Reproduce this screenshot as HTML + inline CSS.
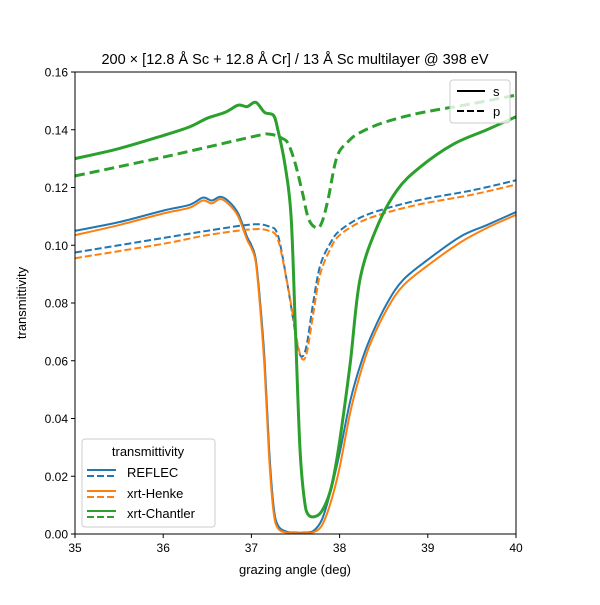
<!DOCTYPE html>
<html><head><meta charset="utf-8"><style>
body{margin:0;background:#fff}
svg text{font-family:"Liberation Sans","DejaVu Sans",sans-serif;fill:#000}
</style></head><body>
<svg id="chart" width="600" height="600" viewBox="0 0 600 600" xmlns="http://www.w3.org/2000/svg">
<rect width="600" height="600" fill="#fff"/>
<g id="plot"></g>
<g id="axes"></g>
<text x="295" y="64" font-size="14.5" text-anchor="middle">200 × [12.8 Å Sc + 12.8 Å Cr] / 13 Å Sc multilayer @ 398 eV</text>
<text x="295" y="574" font-size="13" text-anchor="middle">grazing angle (deg)</text>
<text x="26" y="303" font-size="13" text-anchor="middle" transform="rotate(-90 26 303)">transmittivity</text>
<g>
<rect x="450" y="80" width="60" height="43" rx="3" fill="#fff" fill-opacity="0.8" stroke="#ccc"/>
<line x1="457" y1="91" x2="485" y2="91" stroke="#000" stroke-width="2"/>
<text x="493" y="96" font-size="13">s</text>
<line x1="457" y1="111" x2="485" y2="111" stroke="#000" stroke-width="2" stroke-dasharray="7,3"/>
<text x="493" y="116" font-size="13">p</text>
</g>
<g>
<rect x="82" y="439" width="133" height="88" rx="3" fill="#fff" fill-opacity="0.8" stroke="#ccc"/>
<text x="148" y="456" font-size="13" text-anchor="middle">transmittivity</text>
<g>
<line x1="87" y1="470" x2="116" y2="470" stroke="#1f77b4" stroke-width="2"/>
<line x1="87" y1="476" x2="116" y2="476" stroke="#1f77b4" stroke-width="2" stroke-dasharray="7,3"/>
<text x="127" y="477" font-size="13">REFLEC</text></g>
<g>
<line x1="87" y1="491" x2="116" y2="491" stroke="#ff7f0e" stroke-width="2"/>
<line x1="87" y1="497" x2="116" y2="497" stroke="#ff7f0e" stroke-width="2" stroke-dasharray="7,3"/>
<text x="127" y="498" font-size="13">xrt-Henke</text></g>
<g>
<line x1="87" y1="511" x2="116" y2="511" stroke="#2ca02c" stroke-width="2"/>
<line x1="87" y1="517" x2="116" y2="517" stroke="#2ca02c" stroke-width="2" stroke-dasharray="7,3"/>
<text x="127" y="518" font-size="13">xrt-Chantler</text></g>
</g>
</svg>
<script>
const xTicks=[35,36,37,38,39,40];
const yTicks=[0,0.02,0.04,0.06,0.08,0.10,0.12,0.14,0.16];
const yTickLabels=["0.00","0.02","0.04","0.06","0.08","0.10","0.12","0.14","0.16"];
const reflecSX=[35,35.5,36,36.3,36.45,36.55,36.65,36.75,36.85,36.95,37.0,37.05,37.1,37.15,37.2,37.25,37.3,37.4,37.5,37.6,37.7,37.8,37.9,38.0,38.12,38.23,38.35,38.54,38.72,39.0,39.37,39.67,40];
const reflecSY=[0.105,0.108,0.112,0.114,0.1165,0.1155,0.1168,0.115,0.111,0.103,0.1,0.095,0.08,0.06,0.03,0.01,0.003,0.0008,0.0005,0.0005,0.001,0.005,0.015,0.028,0.046,0.058,0.068,0.080,0.088,0.095,0.103,0.107,0.1115];
const henkeSY=[0.1035,0.107,0.111,0.113,0.1155,0.1145,0.116,0.114,0.110,0.102,0.099,0.094,0.078,0.057,0.027,0.008,0.002,0.0005,0.0003,0.0003,0.0006,0.003,0.011,0.023,0.042,0.055,0.066,0.078,0.086,0.093,0.101,0.106,0.1105];
const pX=[35,36,36.5,37.0,37.2,37.3,37.4,37.47,37.53,37.58,37.63,37.7,37.78,37.9,38.0,38.23,38.5,38.91,39.5,40];
const reflecPY=[0.0975,0.1025,0.105,0.1072,0.1065,0.1035,0.088,0.075,0.064,0.0615,0.066,0.08,0.093,0.101,0.105,0.1095,0.1125,0.1157,0.119,0.1225];
const henkePY=[0.0955,0.1005,0.1035,0.1055,0.105,0.102,0.088,0.076,0.065,0.0605,0.063,0.076,0.09,0.099,0.1035,0.108,0.111,0.1142,0.1175,0.121];
const chantSX=[35,35.5,36,36.3,36.5,36.7,36.85,36.95,37.05,37.15,37.25,37.3,37.38,37.45,37.5,37.55,37.6,37.65,37.76,37.85,37.92,38.0,38.12,38.23,38.42,38.65,38.91,39.29,39.67,40];
const chantSY=[0.130,0.1335,0.138,0.141,0.144,0.146,0.1485,0.148,0.1495,0.146,0.145,0.140,0.128,0.11,0.07,0.03,0.012,0.0065,0.0066,0.011,0.018,0.032,0.059,0.088,0.106,0.119,0.127,0.135,0.140,0.1445];
const chantPX=[35,36,37,37.2,37.35,37.42,37.5,37.58,37.65,37.74,37.8,37.87,37.97,38.1,38.23,38.5,38.91,39.5,40];
const chantPY=[0.124,0.1305,0.1375,0.1385,0.137,0.135,0.128,0.118,0.109,0.106,0.108,0.116,0.1306,0.136,0.139,0.1425,0.1458,0.149,0.152];
const L=75,R=516,T=72,B=534;
const xs=v=>L+(v-35)/5*(R-L);
const ys=v=>B-v/0.16*(B-T);
const NS="http://www.w3.org/2000/svg";
const plot=document.getElementById('plot'),axes=document.getElementById('axes');
function mk(t,a,p){const e=document.createElementNS(NS,t);for(const k in a)e.setAttribute(k,a[k]);p.appendChild(e);return e;}
function smooth(X,Y){const P=X.map((x,i)=>[xs(x),ys(Y[i])]);let d="M"+P[0][0]+","+P[0][1];
for(let i=0;i<P.length-1;i++){const p0=P[Math.max(0,i-1)],p1=P[i],p2=P[i+1],p3=P[Math.min(P.length-1,i+2)];
const c1=[p1[0]+(p2[0]-p0[0])/6,p1[1]+(p2[1]-p0[1])/6],c2=[p2[0]-(p3[0]-p1[0])/6,p2[1]-(p3[1]-p1[1])/6];
d+=` C${c1[0]},${c1[1]} ${c2[0]},${c2[1]} ${p2[0]},${p2[1]}`;}return d;}
const clip=mk('clipPath',{id:'pc'},plot);mk('rect',{x:L,y:T,width:R-L,height:B-T},clip);
const series=[
 ['reflec-s-line',reflecSX,reflecSY,'#1f77b4',2,null],
 ['xrt-henke-s-line',reflecSX,henkeSY,'#ff7f0e',2,null],
 ['reflec-p-line',pX,reflecPY,'#1f77b4',2,'7,3'],
 ['xrt-henke-p-line',pX,henkePY,'#ff7f0e',2,'7,3'],
 ['xrt-chantler-s-line',chantSX,chantSY,'#2ca02c',3,null],
 ['xrt-chantler-p-line',chantPX,chantPY,'#2ca02c',3,'10,5']];
series.forEach(s=>{const p=mk('path',{d:smooth(s[1],s[2]),fill:'none',stroke:s[3],'stroke-width':s[4],'clip-path':'url(#pc)'},plot);
if(s[5])p.setAttribute('stroke-dasharray',s[5]);

});
const frame=mk('rect',{x:L,y:T,width:R-L,height:B-T,fill:'none',stroke:'#000','stroke-width':1},axes);


xTicks.forEach(v=>{const x=xs(v);mk('line',{x1:x,y1:B,x2:x,y2:B+4,stroke:'#000'},axes);
const t=mk('text',{x:x,y:B+18,'font-size':12,'text-anchor':'middle'},axes);t.textContent=v;

});
yTicks.forEach((v,i)=>{const y=ys(v);mk('line',{x1:L-4,y1:y,x2:L,y2:y,stroke:'#000'},axes);
const t=mk('text',{x:L-7,y:y+4.5,'font-size':12,'text-anchor':'end'},axes);t.textContent=yTickLabels[i];

});
</script>
</body></html>
